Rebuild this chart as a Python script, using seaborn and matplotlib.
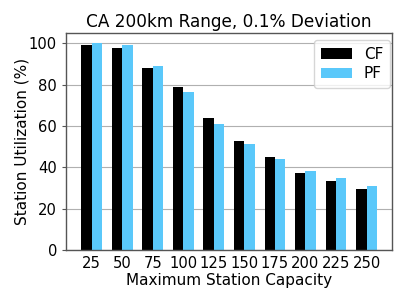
import pandas as pd
import numpy as np
import matplotlib
matplotlib.use("Agg")
import matplotlib.pyplot as plt
import seaborn as sns

# Data
capacities = ["25", "50", "75", "100", "125", "150", "175", "200", "225", "250"]
cf_util = [99.4, 97.6, 88.1, 78.9, 63.8, 52.7, 44.9, 37.5, 33.4, 29.7]
pf_util = [100.0, 99.0, 89.0, 76.6, 61.1, 51.2, 44.1, 38.1, 34.9, 31.2]

df = pd.DataFrame({
    "Capacity": capacities * 2,
    "Utilization": cf_util + pf_util,
    "Method": ["CF"] * len(capacities) + ["PF"] * len(capacities),
})

sns.set_style("ticks")
plt.rcParams["font.family"] = ["DejaVu Sans"]
plt.rcParams["text.color"] = "black"
plt.rcParams["axes.labelcolor"] = "black"
plt.rcParams["xtick.color"] = "black"
plt.rcParams["ytick.color"] = "black"

fig, ax = plt.subplots(figsize=(4.07, 3.05), dpi=100)
fig.subplots_adjust(left=0.162, right=0.963, bottom=0.180, top=0.892)

sns.barplot(data=df, x="Capacity", y="Utilization", hue="Method",
            palette={"CF": "black", "PF": "#5ac8fa"},
            width=0.68, gap=0, linewidth=0, saturation=1, ax=ax)

ax.set_xlim(-0.84, 9.83)
ax.set_ylim(0, 105)
ax.set_yticks([0, 20, 40, 60, 80, 100])
ax.yaxis.grid(True, color="#b0b0b0", linewidth=0.8)
ax.set_axisbelow(True)
for s in ax.spines.values():
    s.set_color("#555555")
    s.set_linewidth(1.0)
ax.tick_params(axis="both", labelsize=10.6, length=3)
ax.tick_params(axis="y", color="#555555")
ax.tick_params(axis="x", length=0, pad=4)

ax.set_title("CA 200km Range, 0.1% Deviation", fontsize=12.2, pad=4.5)
ax.set_xlabel("Maximum Station Capacity", fontsize=11, labelpad=2)
ax.set_ylabel("Station Utilization (%)", fontsize=11, labelpad=-0.5)

leg = ax.legend(loc="upper right", bbox_to_anchor=(0.994, 0.968),
                borderaxespad=0, fontsize=11, title=None, fancybox=True,
                handlelength=2.0, handleheight=0.7, labelspacing=0.3,
                borderpad=0.45)

fig.savefig("out.png", dpi=100)
